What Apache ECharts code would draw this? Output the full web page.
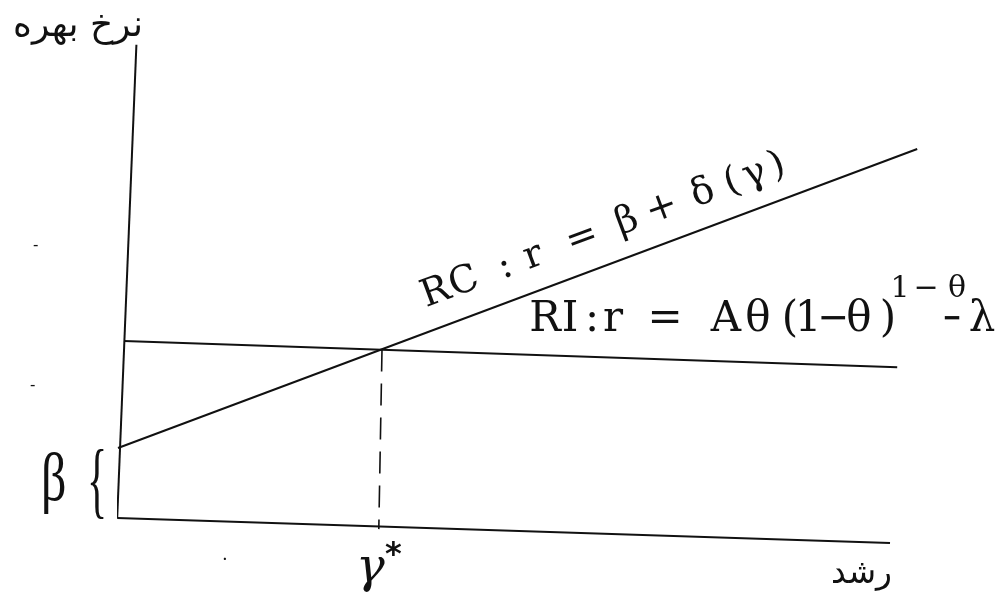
<!DOCTYPE html>
<html>
<head>
<meta charset="utf-8">
<script src="https://cdn.jsdelivr.net/npm/echarts@6/dist/echarts.min.js"></script>
<style>
  html, body { margin: 0; background: #fff; }
  #chart { width: 1005px; height: 600px; }
</style>
</head>
<body>
<div id="chart"></div>
<script>
// values, in chart units (growth 0..100 across, rate 0..100 up)
const growthAxis = [[-0.1, 0.4], [96.5, -4.8]]
const rateAxis = [[-0.1, 0.4], [2.3, 99]]
const rcLine = [[0, 15], [99.9, 77.3]]
const riLine = [[0.75, 37.3], [97.4, 31.8]]
const gammaStarGuide = [[33, 35.5], [32.6, -1.9]]

// the formulas are typewritten, so glyphs are laid out one by one
const rcGlyphs = ['R', 'C', ':', 'r', '=', 'β', '+', 'δ', '(', 'γ', ')']
const rcSteps = [0, 30, 74, 104, 156, 204, 241, 285, 316, 340, 364]
const riGlyphs = ['R', 'I', ':', 'r', '=', 'A', 'θ', '(', '1', '−', 'θ', ')']
const riSteps = [0, 25, 47, 68, 120, 181, 213, 245, 263, 288, 314, 343]
const expGlyphs = ['1', '−', 'θ']
const expSteps = [0, 26, 57]
const tailGlyphs = ['−', 'λ']
const tailSteps = [0, 30]

const INK = '#111'
const FARSI = "'DejaVu Sans', sans-serif"
const SERIF = "'DejaVu Serif', 'Liberation Serif', serif"

const myChart = echarts.init(document.getElementById('chart'))

const plainLine = (name, data, extra) => ({
  name,
  type: 'line',
  data,
  symbol: 'none',
  clip: false,
  silent: true,
  lineStyle: { color: INK, width: 2, ...extra }
})

const txt = (x, y, text, font, opts = {}) => ({
  type: 'text',
  x,
  y,
  rotation: opts.rotation || 0,
  scaleX: opts.scaleX || 1,
  scaleY: opts.scaleY || 1,
  style: {
    text,
    font,
    fill: INK,
    align: opts.align || 'left',
    verticalAlign: 'middle'
  }
})

// minusScale squeezes the minus sign, the typewriter ones vary in length
const glyphRun = (x, y, glyphs, steps, font, rotation = 0, minusScale = 1) => ({
  type: 'group',
  x,
  y,
  rotation,
  children: glyphs.map((g, i) =>
    txt(steps[i], 0, g, font, { align: 'center', scaleX: g === '−' ? minusScale : 1 })
  )
})

const RC_ANGLE = 20.4 * Math.PI / 180

myChart.setOption({
  animation: false,
  grid: { left: 118, top: 40, width: 800, height: 480 },
  xAxis: { type: 'value', min: 0, max: 100, show: false },
  yAxis: { type: 'value', min: 0, max: 100, show: false },
  series: [
    plainLine('growth axis', growthAxis),
    plainLine('rate axis', rateAxis),
    plainLine('RC', rcLine),
    plainLine('RI', riLine),
    plainLine('gamma*', gammaStarGuide, { width: 1.6, type: [22, 12] })
  ],
  graphic: [
    txt(143, 27, 'نرخ بهره', `36px ${FARSI}`, { align: 'right' }),
    txt(892, 574, 'رشد', `33px ${FARSI}`, { align: 'right' }),
    txt(356, 570, 'γ', `italic 48px ${SERIF}`),
    txt(385, 556, '*', `bold 32px ${FARSI}`),
    txt(41, 482, 'β', `50px 'Liberation Serif', serif`, { scaleY: 1.35 }),
    txt(87, 486, '{', `56px 'Liberation Serif', serif`, { scaleX: 0.75, scaleY: 1.5 }),
    glyphRun(436, 293, rcGlyphs, rcSteps, `38px ${SERIF}`, RC_ANGLE),
    glyphRun(545, 320, riGlyphs, riSteps, `42px ${SERIF}`, 0, 0.9),
    glyphRun(900, 289, expGlyphs, expSteps, `30px ${SERIF}`),
    glyphRun(952, 320, tailGlyphs, tailSteps, `42px ${SERIF}`, 0, 0.55),
    txt(33, 246, '-', `16px ${SERIF}`),
    txt(30, 386, '-', `16px ${SERIF}`),
    txt(222, 555, '.', `18px ${SERIF}`)
  ]
})
</script>
</body>
</html>
